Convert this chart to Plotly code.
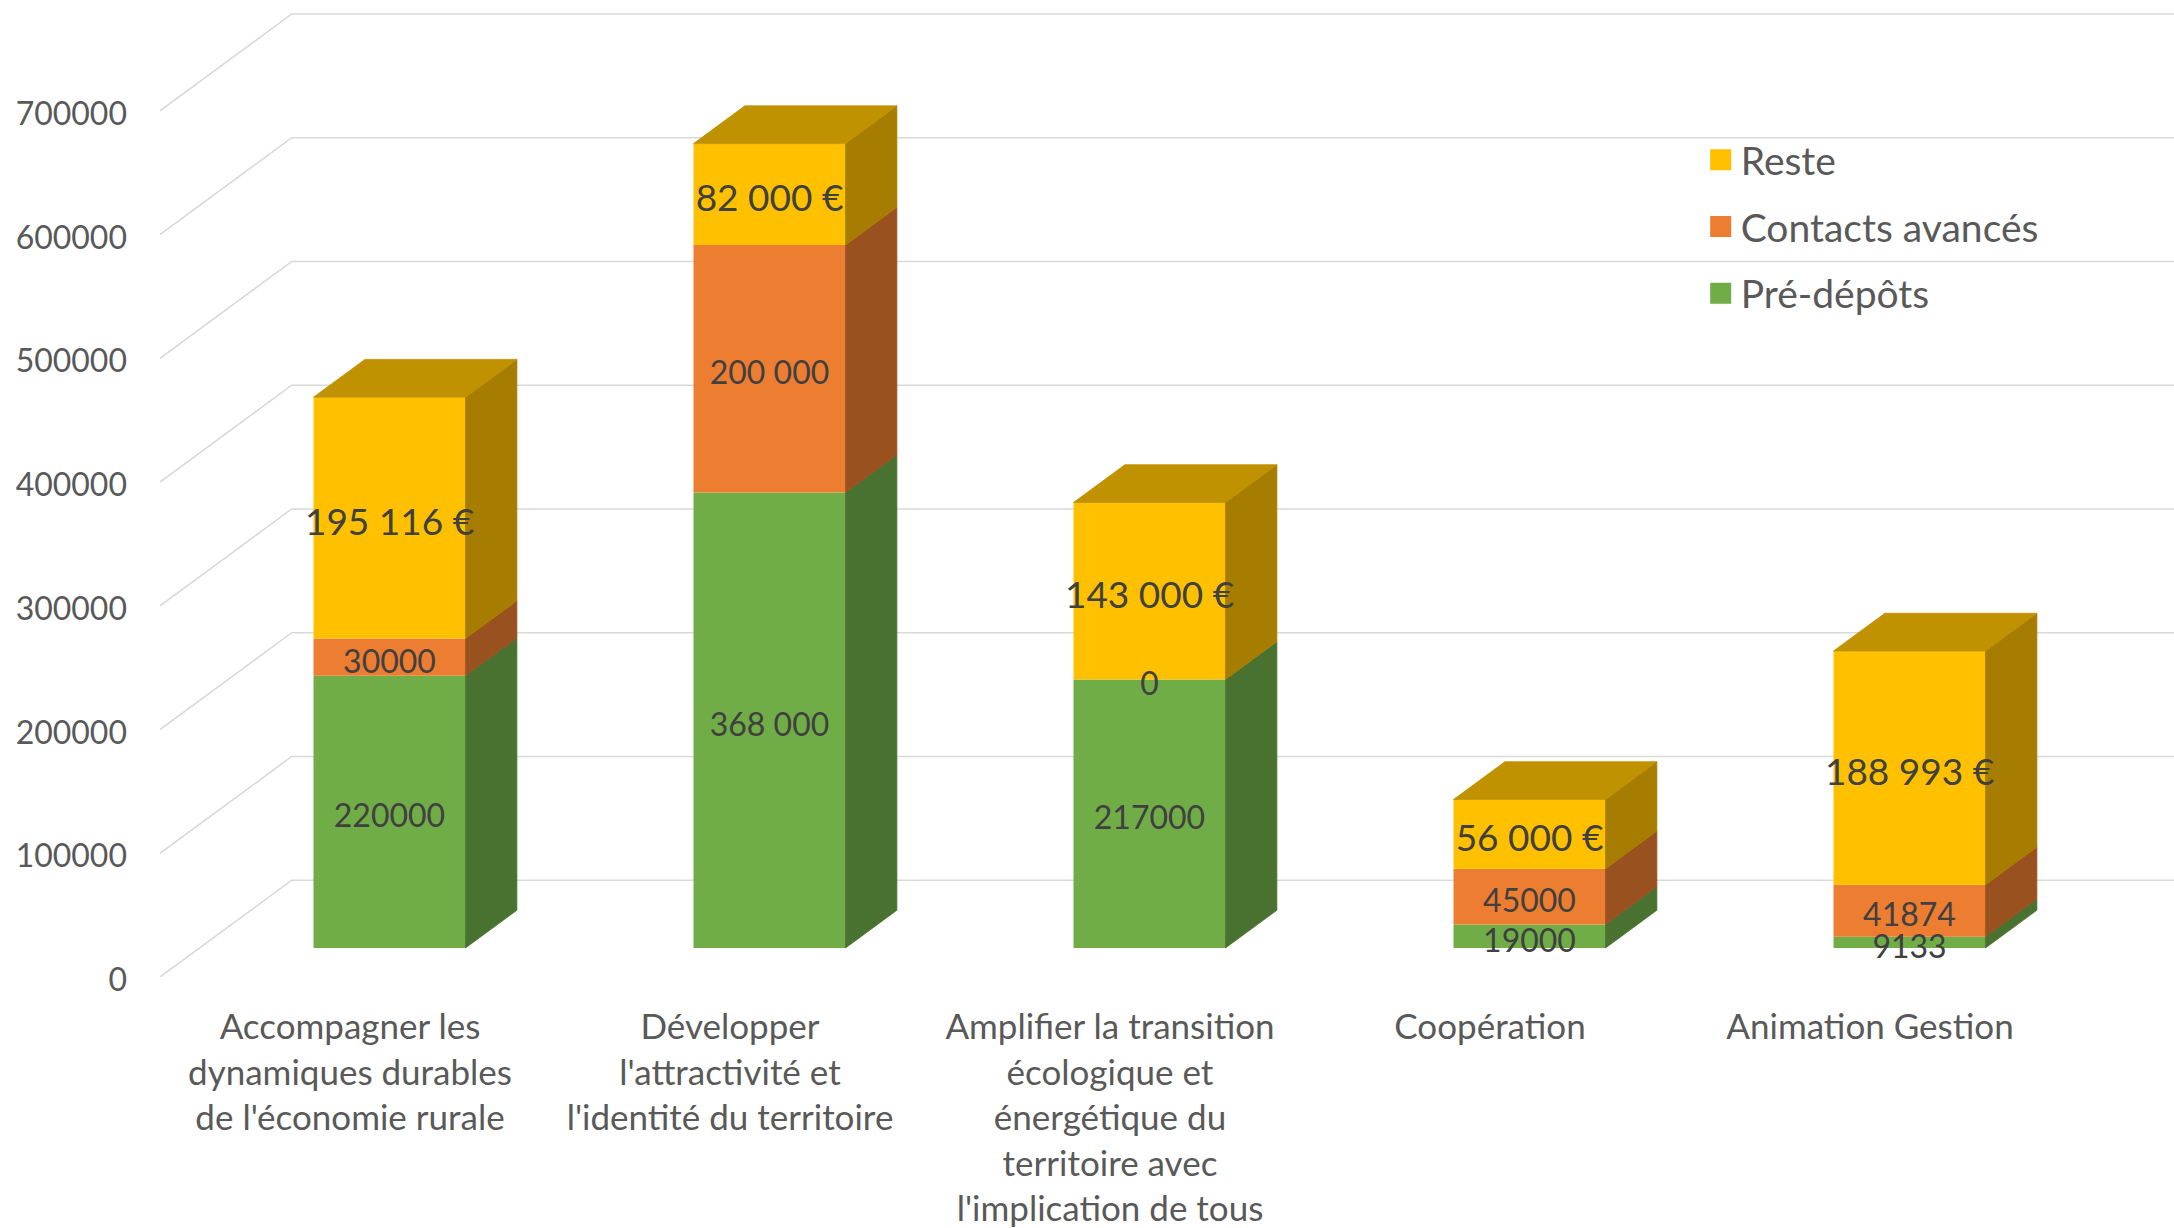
import plotly.graph_objects as go

# ---------------- data ----------------
categories = [
    "Accompagner les<br>dynamiques durables<br>de l'économie rurale",
    "Développer<br>l'attractivité et<br>l'identité du territoire",
    "Amplifier la transition<br>écologique et<br>énergétique du<br>territoire avec<br>l'implication de tous",
    "Coopération",
    "Animation Gestion",
]
pre_depots = [220000, 368000, 217000, 19000, 9133]
contacts_avances = [30000, 200000, 0, 45000, 41874]
reste = [195116, 82000, 143000, 56000, 188993]

pre_depots_labels = ["220000", "368 000", "217000", "19000", "9133"]
contacts_labels = ["30000", "200 000", "0", "45000", "41874"]
reste_labels = ["195 116 €", "82 000 €", "143 000 €", "56 000 €", "188 993 €"]

y_ticks = [0, 100000, 200000, 300000, 400000, 500000, 600000, 700000]
y_tick_text = ["0", "100000", "200000", "300000", "400000", "500000", "600000", "700000"]

# ---------------- pseudo-3D geometry (in axis units) ----------------
DX = 0.3466      # full depth, x (category units)
DY = 78200       # full depth, y (value units)
F0 = 0.30        # front face of bars, as fraction of depth
FD = 0.39        # bar thickness, as fraction of depth
W = 0.40         # bar width (category units)
LABEL_NUDGE = 6000   # small downward nudge of data labels (value units)

FONT = "Lato"
series = [
    dict(name="Pré-dépôts", values=pre_depots, labels=pre_depots_labels,
         front="#70AD47", side="#497130", rank=3, lsize=32),
    dict(name="Contacts avancés", values=contacts_avances, labels=contacts_labels,
         front="#ED7D31", side="#9A5120", rank=2, lsize=32),
    dict(name="Reste", values=reste, labels=reste_labels,
         front="#FFC000", side="#A67D00", rank=1, lsize=37),
]
TOP_COLOR = "#C09100"

n = len(categories)
cum = [0.0] * n
fig = go.Figure()

side_traces, text_traces, legend_traces = [], [], []
for s in series:
    vals = s["values"]
    xs = [i + 0.5 + F0 * DX for i in range(n)]
    bases = [cum[i] + F0 * DY for i in range(n)]
    fig.add_trace(go.Bar(
        x=xs, y=vals, base=bases, width=W, name=s["name"], showlegend=False,
        legendgroup=s["name"], marker=dict(color=s["front"], line=dict(width=0)),
        hoverinfo="skip",
    ))
    # side faces
    px, py = [], []
    for i in range(n):
        if vals[i] <= 0:
            continue
        xr = xs[i] + W / 2
        b = bases[i]
        t = b + vals[i]
        px += [xr, xr + FD * DX, xr + FD * DX, xr, xr, None]
        py += [b, b + FD * DY, t + FD * DY, t, b, None]
    side_traces.append(go.Scatter(
        x=px, y=py, mode="lines", fill="toself", fillcolor=s["side"],
        line=dict(color=s["side"], width=0.8), showlegend=False, hoverinfo="skip"))
    # data labels, centred on the front face of each segment
    text_traces.append(go.Scatter(
        x=xs, y=[bases[i] + vals[i] / 2 - LABEL_NUDGE for i in range(n)], mode="text",
        text=s["labels"], textposition="middle center",
        textfont=dict(family=FONT, size=s["lsize"], color="#404040"),
        showlegend=False, hoverinfo="skip", cliponaxis=False))
    # legend entry (square swatch)
    legend_traces.append(go.Scatter(
        x=[None], y=[None], mode="markers", name=s["name"], legendgroup=s["name"],
        legendrank=s["rank"],
        marker=dict(symbol="square", size=16, color=s["front"],
                    line=dict(color=s["front"], width=5)),
        hoverinfo="skip"))
    for i in range(n):
        cum[i] += vals[i]

# top faces of the stacks
top_px, top_py = [], []
for i in range(n):
    xl = i + 0.5 + F0 * DX - W / 2
    xr = xl + W
    T = cum[i] + F0 * DY
    top_px += [xl, xl + FD * DX, xr + FD * DX, xr, xl, None]
    top_py += [T, T + FD * DY, T + FD * DY, T, T, None]
top_trace = go.Scatter(
    x=top_px, y=top_py, mode="lines", fill="toself", fillcolor=TOP_COLOR,
    line=dict(color=TOP_COLOR, width=0.8), showlegend=False, hoverinfo="skip")

for tr in side_traces + [top_trace] + text_traces + legend_traces:
    fig.add_trace(tr)

# walls: gridlines on left wall (diagonal) and back wall (horizontal)
shapes = []
for v in y_ticks:
    shapes.append(dict(
        type="path", xref="x", yref="y", layer="below",
        path=f"M 0,{v} L {DX},{v + DY} L 6,{v + DY}",
        line=dict(color="#D9D9D9", width=1.6)))

fig.update_layout(
    width=2174, height=1228,
    margin=dict(l=160, r=0, t=0, b=249),
    paper_bgcolor="white", plot_bgcolor="white",
    barmode="overlay",
    shapes=shapes,
    xaxis=dict(range=[0, 5.3], tickvals=[i + 0.5 for i in range(n)], ticktext=categories,
               showgrid=False, zeroline=False, showline=False, ticks="",
               tickfont=dict(family=FONT, size=35, color="#595959"),
               ticklabelstandoff=26, fixedrange=True),
    yaxis=dict(range=[0, 789500], tickvals=y_ticks, ticktext=y_tick_text,
               showgrid=False, zeroline=False, showline=False, ticks="",
               tickfont=dict(family=FONT, size=32, color="#595959"),
               ticklabelstandoff=32, ticklabelshift=3, fixedrange=True),
    legend=dict(x=0.765, y=0.869, xanchor="left", yanchor="top",
                traceorder="grouped", tracegroupgap=13,
                font=dict(family=FONT, size=39, color="#595959"),
                bgcolor="rgba(0,0,0,0)"),
    showlegend=True,
)

fig.write_html("out.html", config={"displayModeBar": False},
               post_script="document.body.style.margin='0px';")
